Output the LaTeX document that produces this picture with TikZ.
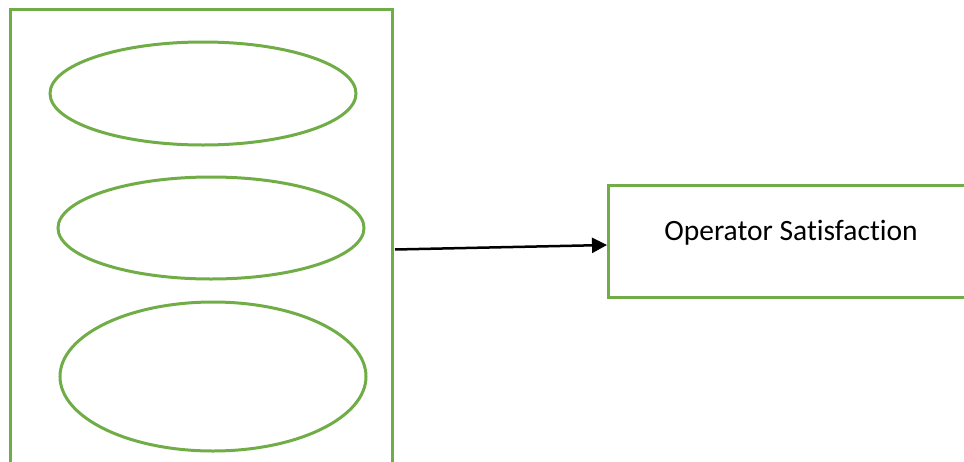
\documentclass[tikz,border=0pt]{standalone}
\usepackage{fontspec}
\setmainfont{Carlito}[Ligatures=NoCommon]
\usetikzlibrary{arrows.meta}
\definecolor{officegreen}{HTML}{70AD47}
\begin{document}
\begin{tikzpicture}[x=1pt,y=-1pt,
  greenline/.style={draw=officegreen,line width=3pt},
  link/.style={draw=black,line width=2.5pt,-{Triangle[length=15pt,width=15pt]}}]
\useasboundingbox (0,0) rectangle (964,461);
\begin{scope}
\clip (0,0) rectangle (964,461);
\draw[greenline] (10,9) rectangle (392,480);
\draw[greenline] (608,185) rectangle (980,297);
\end{scope}
\draw[greenline] (203,93.5) ellipse [x radius=153,y radius=51.5];
\draw[greenline] (211,228) ellipse [x radius=153,y radius=51];
\draw[greenline] (213,376.5) ellipse [x radius=153,y radius=74.5];
\node[font=\fontsize{29.5}{34}\selectfont,anchor=center] (label) at (791,233) {Operator Satisfaction};
\coordinate (start) at (395,249.5);
\coordinate (end) at (607,245);
\draw[link] (start) -- (end);
\end{tikzpicture}
\end{document}
